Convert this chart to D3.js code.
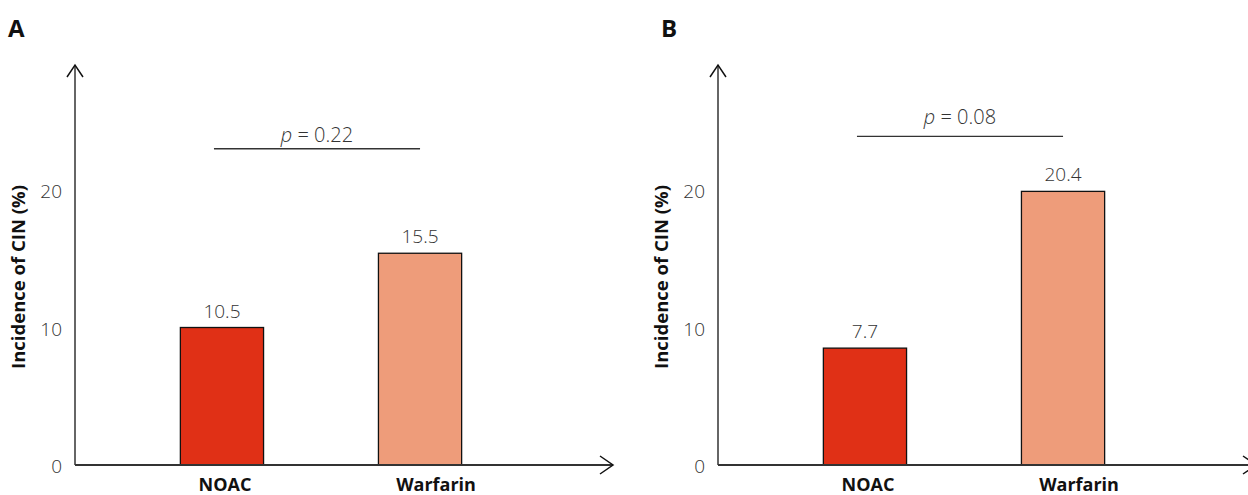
<!DOCTYPE html>
<html>
<head>
<meta charset="utf-8">
<script src="https://cdn.jsdelivr.net/npm/d3@7"></script>
<style>
  body { margin: 0; background: #fff; }
  svg { display: block; font-family: "Open Sans", "Noto Sans", sans-serif; }
</style>
</head>
<body>
<svg id="fig"></svg>
<script>
// data
const categories = ['NOAC', 'Warfarin'];
const panelNames = ['A', 'B'];
const barValuesA = [10.0, 15.4];   // drawn heights
const barValuesB = [8.5, 19.9];
const barLabelsA = ['10.5', '15.5']; // printed labels
const barLabelsB = ['7.7', '20.4'];
const pValues = ['0.22', '0.08'];
const pLevels = [23.0, 23.9];       // height of the comparison line
const yTicks = [0, 10, 20];
const colors = ['#e03016', '#ee9c7a'];

const width = 1248, height = 495;
const svg = d3.select('#fig').attr('width', width).attr('height', height);

// category labels sit a little right of the bar centre in the original
const labelShift = [3, 16];

function drawPanel(opt) {
    const g = svg.append('g').attr('transform', `translate(${opt.left},0)`);

    const y = d3.scaleLinear().domain([0, 20]).range([465, 190]);
    const x = d3.scaleBand()
        .domain(categories)
        .range([40, 452])
        .paddingInner(0.58)
        .paddingOuter(0.33);

    // panel letter
    svg.append('text')
        .attr('x', opt.titleX).attr('y', 37)
        .attr('font-size', 24).attr('font-weight', 700)
        .attr('fill', '#111')
        .text(opt.name);

    // y tick labels (no tick marks)
    const ya = g.append('g').call(d3.axisLeft(y).tickValues(yTicks).tickSize(0).tickPadding(13));
    ya.select('.domain').remove();
    ya.selectAll('text')
        .attr('font-size', 19).attr('font-weight', 300)
        .attr('fill', '#333').attr('font-family', '"Open Sans", sans-serif')
        .attr('dy', '0.4em');

    // category labels
    const xa = g.append('g').attr('transform', 'translate(0,465)')
        .call(d3.axisBottom(x).tickSize(0).tickPadding(13));
    xa.select('.domain').remove();
    xa.selectAll('text')
        .attr('font-size', 18).attr('font-weight', 700)
        .attr('fill', '#111').attr('font-family', '"Open Sans", sans-serif')
        .attr('dx', (d, i) => labelShift[i]);

    // bars
    g.selectAll('rect.bar').data(opt.values)
        .enter().append('rect')
        .attr('class', 'bar')
        .attr('x', (d, i) => x(categories[i]))
        .attr('y', d => y(d))
        .attr('width', x.bandwidth())
        .attr('height', d => y(0) - y(d))
        .attr('fill', (d, i) => colors[i])
        .attr('stroke', '#111')
        .attr('stroke-width', 1.3);

    // value labels
    g.selectAll('text.val').data(opt.values)
        .enter().append('text')
        .attr('class', 'val')
        .attr('x', (d, i) => x(categories[i]) + x.bandwidth() / 2)
        .attr('y', d => y(d) - 10)
        .attr('text-anchor', 'middle')
        .attr('font-size', 19).attr('font-weight', 300)
        .attr('fill', '#333')
        .text((d, i) => opt.labels[i]);

    // axes with open arrow heads
    const axisColor = '#333';
    g.append('line').attr('x1', 0).attr('x2', 0).attr('y1', 465).attr('y2', 65)
        .attr('stroke', axisColor).attr('stroke-width', 1.5);
    g.append('path').attr('d', 'M-8,77L0,65L8,77')
        .attr('fill', 'none').attr('stroke', '#111').attr('stroke-width', 1.5);
    g.append('line').attr('x1', 0).attr('x2', 538).attr('y1', 465).attr('y2', 465)
        .attr('stroke', axisColor).attr('stroke-width', 1.8);
    g.append('path').attr('d', 'M525,456L538,465L525,474')
        .attr('fill', 'none').attr('stroke', '#111').attr('stroke-width', 1.5);

    // y axis title
    g.append('text')
        .attr('transform', `translate(-50,${277}) rotate(-90)`)
        .attr('text-anchor', 'middle')
        .attr('font-size', 18.5).attr('font-weight', 700)
        .attr('fill', '#111')
        .text('Incidence of CIN (%)');

    // p value bracket
    const x1 = x(categories[0]) + x.bandwidth() / 2 - 8;
    const x2 = x(categories[1]) + x.bandwidth() / 2;
    const ly = y(opt.pLevel);
    g.append('line').attr('x1', x1).attr('x2', x2).attr('y1', ly).attr('y2', ly)
        .attr('stroke', '#333').attr('stroke-width', 1.3);
    const pt = g.append('text')
        .attr('x', (x1 + x2) / 2).attr('y', ly - opt.pGap)
        .attr('text-anchor', 'middle')
        .attr('font-size', 20).attr('font-weight', 300)
        .attr('fill', '#333');
    pt.append('tspan').attr('font-style', 'italic').text('p');
    pt.append('tspan').text(' = ' + opt.p);
}

drawPanel({ name: panelNames[0], left: 75, titleX: 8, values: barValuesA, labels: barLabelsA,
            p: pValues[0], pLevel: pLevels[0], pGap: 7 });
drawPanel({ name: panelNames[1], left: 718, titleX: 661, values: barValuesB, labels: barLabelsB,
            p: pValues[1], pLevel: pLevels[1], pGap: 12 });
</script>
</body>
</html>
